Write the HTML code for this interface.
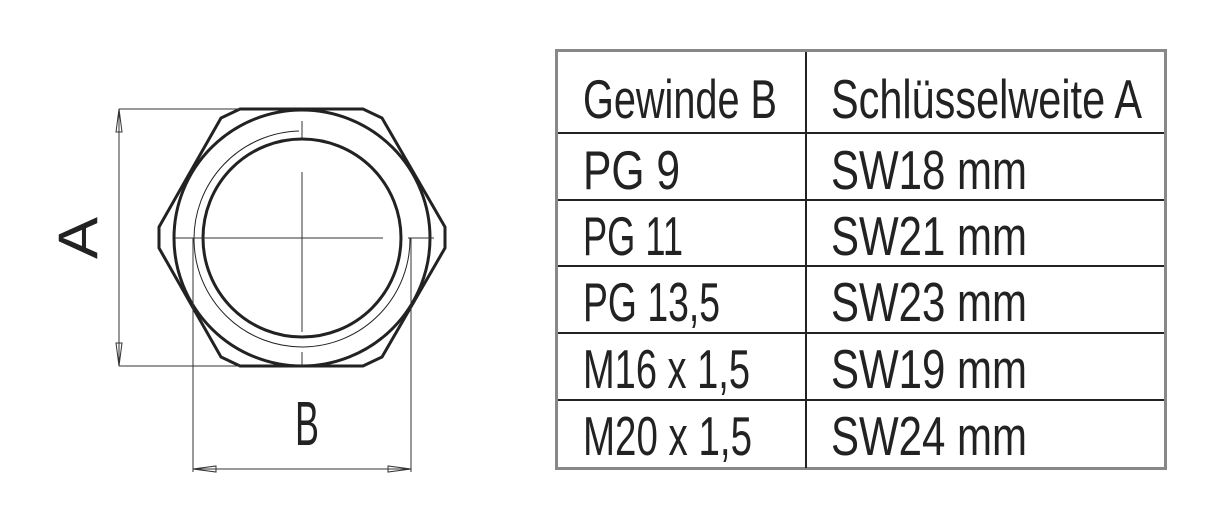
<!DOCTYPE html>
<html><head><meta charset="utf-8"><style>html,body{margin:0;padding:0;background:#fff}svg{display:block}</style></head>
<body>
<svg width="1217" height="525" viewBox="0 0 1217 525" xmlns="http://www.w3.org/2000/svg" font-family="Liberation Sans, sans-serif">
<rect width="1217" height="525" fill="#fff"/>
<!-- drawing -->
<g fill="none" stroke="#222">
<polygon points="240,109 363,109 382,118 445,227 445,248 382,357 363,366 240,366 221,357 159,248 159,227 221,118" stroke-width="3"/>
<circle cx="302" cy="238" r="128" stroke-width="3"/>
<circle cx="302" cy="238" r="99" stroke-width="3"/>
<path d="M299,131 A108,108 0 1 0 410,238" stroke-width="1"/>
<path d="M195,238 A108,108 0 0 0 300,130" stroke-width="0"/>
<g stroke-width="1" stroke="#333">
<line x1="175" y1="238" x2="383" y2="238"/>
<line x1="408" y1="238" x2="434" y2="238"/>
<line x1="302" y1="121" x2="302" y2="138"/>
<line x1="302" y1="172" x2="302" y2="332"/>
<line x1="302" y1="352" x2="302" y2="366"/>
<line x1="119" y1="109" x2="240" y2="109"/>
<line x1="119" y1="366" x2="240" y2="366"/>
<line x1="119" y1="109" x2="119" y2="366"/>
<polygon points="119,109 116,132 122,132"/>
<polygon points="119,366 116,343 122,343"/>
<line x1="193" y1="238" x2="193" y2="472"/>
<line x1="411" y1="238" x2="411" y2="472"/>
<line x1="193" y1="469" x2="411" y2="469"/>
<polygon points="193,469 216,466 216,472"/>
<polygon points="411,469 388,466 388,472"/>
</g>
</g>
<text x="97" y="238" font-size="56" fill="#222" text-anchor="middle" transform="rotate(-90 97 238) translate(0,0)" textLength="42" lengthAdjust="spacingAndGlyphs" dy="0">A</text>
<text x="307" y="445" font-size="62" fill="#222" text-anchor="middle" textLength="24" lengthAdjust="spacingAndGlyphs">B</text>
<!-- table -->
<rect x="556.5" y="50.5" width="609" height="418" fill="#fff" stroke="#888" stroke-width="3"/>
<g stroke="#222" stroke-width="2">
<line x1="558" y1="133" x2="1164" y2="133"/>
<line x1="558" y1="200" x2="1164" y2="200"/>
<line x1="558" y1="266" x2="1164" y2="266"/>
<line x1="558" y1="333" x2="1164" y2="333"/>
<line x1="558" y1="400" x2="1164" y2="400"/>
<line x1="806" y1="52" x2="806" y2="468"/>
</g>
<g font-size="55" fill="#222" lengthAdjust="spacingAndGlyphs">
<text x="583" y="118" textLength="194" lengthAdjust="spacingAndGlyphs">Gewinde B</text>
<text x="831" y="118" textLength="311" lengthAdjust="spacingAndGlyphs">Schlüsselweite A</text>
<text x="583" y="189" textLength="97" lengthAdjust="spacingAndGlyphs">PG 9</text>
<text x="831" y="189" textLength="196" lengthAdjust="spacingAndGlyphs">SW18 mm</text>
<text x="583" y="255" textLength="100" lengthAdjust="spacingAndGlyphs">PG 11</text>
<text x="831" y="255" textLength="196" lengthAdjust="spacingAndGlyphs">SW21 mm</text>
<text x="583" y="321" textLength="137" lengthAdjust="spacingAndGlyphs">PG 13,5</text>
<text x="831" y="321" textLength="196" lengthAdjust="spacingAndGlyphs">SW23 mm</text>
<text x="583" y="388" textLength="167" lengthAdjust="spacingAndGlyphs">M16 x 1,5</text>
<text x="831" y="388" textLength="196" lengthAdjust="spacingAndGlyphs">SW19 mm</text>
<text x="583" y="455" textLength="169" lengthAdjust="spacingAndGlyphs">M20 x 1,5</text>
<text x="831" y="455" textLength="196" lengthAdjust="spacingAndGlyphs">SW24 mm</text>
</g>
</svg>
</body></html>
